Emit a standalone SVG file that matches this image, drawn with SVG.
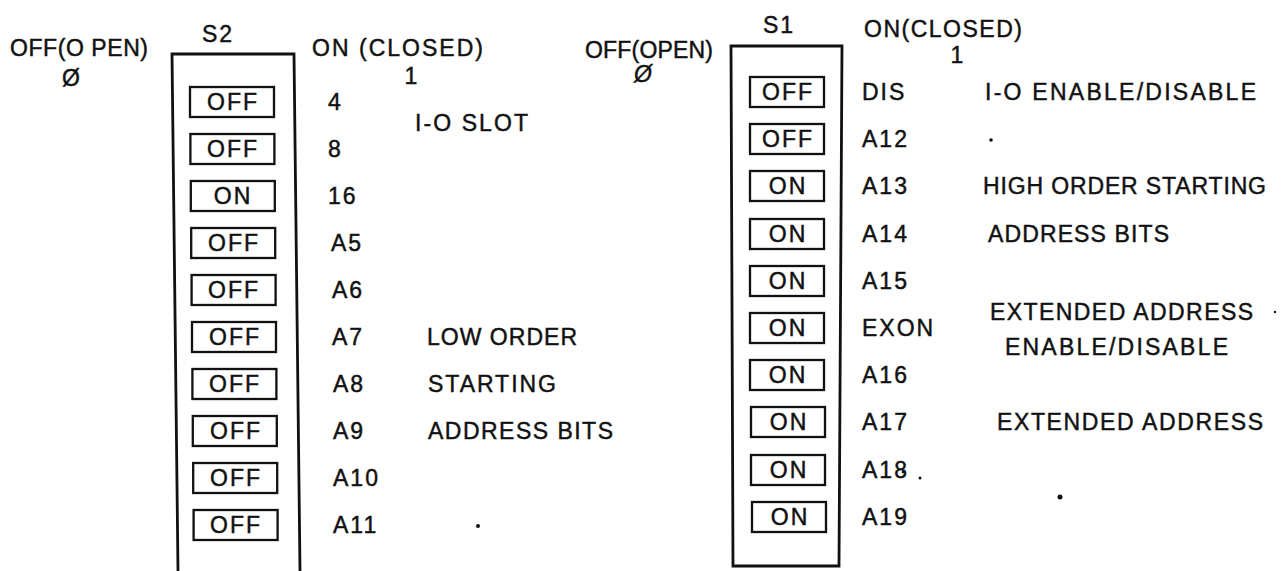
<svg xmlns="http://www.w3.org/2000/svg" width="1283" height="571" viewBox="0 0 1283 571">
<style>
text{font-family:"Liberation Sans",Arial,sans-serif;font-size:23px;fill:#111;stroke:#111;stroke-width:0.45;letter-spacing:2px}
.sw{fill:none;stroke:#111;stroke-width:2.3}
.box{fill:none;stroke:#111;stroke-width:2.8}
.st{font-size:23px;text-anchor:middle}
.dot{fill:#111}
</style>
<rect width="1283" height="571" fill="#fff"/>
<g id="S2">
<path class="box" d="M178,571 L172,54 L294,54 L300,571"/>
<text x="202" y="42">S2</text>
<text x="10" y="56" textLength="140" lengthAdjust="spacing">OFF(O PEN)</text>
<text x="72" y="86" style="text-anchor:middle">Ø</text>
<text x="312" y="56" textLength="173" lengthAdjust="spacing">ON (CLOSED)</text>
<text x="412" y="84" style="text-anchor:middle">1</text>
<rect class="sw" x="190" y="87" width="84" height="30"/><text class="st" x="233" y="110">OFF</text>
<rect class="sw" x="190.4" y="134" width="84" height="30"/><text class="st" x="233" y="157">OFF</text>
<rect class="sw" x="190.8" y="181" width="84" height="30"/><text class="st" x="233" y="204">ON</text>
<rect class="sw" x="191.2" y="228" width="84" height="30"/><text class="st" x="234" y="251">OFF</text>
<rect class="sw" x="191.6" y="275" width="84" height="30"/><text class="st" x="234" y="298">OFF</text>
<rect class="sw" x="192" y="322" width="84" height="30"/><text class="st" x="235" y="345">OFF</text>
<rect class="sw" x="192.4" y="369" width="84" height="30"/><text class="st" x="235" y="392">OFF</text>
<rect class="sw" x="192.8" y="416" width="84" height="30"/><text class="st" x="236" y="439">OFF</text>
<rect class="sw" x="193.2" y="463" width="84" height="30"/><text class="st" x="236" y="486">OFF</text>
<rect class="sw" x="193.6" y="510" width="84" height="30"/><text class="st" x="236" y="533">OFF</text>
<text x="328" y="110">4</text>
<text x="328" y="157">8</text>
<text x="328" y="204">16</text>
<text x="331" y="251">A5</text>
<text x="332" y="298">A6</text>
<text x="332" y="345">A7</text>
<text x="333" y="392">A8</text>
<text x="333" y="439">A9</text>
<text x="333" y="486">A10</text>
<text x="333" y="533">A11</text>
<text x="415" y="131" textLength="115" lengthAdjust="spacing">I-O SLOT</text>
<text x="427" y="345" textLength="152" lengthAdjust="spacing">LOW ORDER</text>
<text x="428" y="392" textLength="130" lengthAdjust="spacing">STARTING</text>
<text x="428" y="439" textLength="187" lengthAdjust="spacing">ADDRESS BITS</text>
<circle class="dot" cx="478" cy="526" r="2"/>
</g>
<g id="S1">
<path class="box" d="M731,46 L842,46 L839,566 L733,566 Z"/>
<text x="763" y="33">S1</text>
<text x="585" y="58" textLength="130" lengthAdjust="spacing">OFF(OPEN)</text>
<text x="644" y="82" style="text-anchor:middle;font-style:italic">Ø</text>
<text x="864" y="37" textLength="160" lengthAdjust="spacing">ON(CLOSED)</text>
<text x="958" y="63" style="text-anchor:middle">1</text>
<rect class="sw" x="750" y="77" width="74" height="30"/><text class="st" x="788" y="100">OFF</text>
<rect class="sw" x="750" y="124" width="74" height="30"/><text class="st" x="788" y="147">OFF</text>
<rect class="sw" x="750" y="171" width="74" height="30"/><text class="st" x="788" y="194">ON</text>
<rect class="sw" x="750" y="219" width="74" height="30"/><text class="st" x="788" y="242">ON</text>
<rect class="sw" x="750" y="266" width="74" height="30"/><text class="st" x="788" y="289">ON</text>
<rect class="sw" x="750" y="313" width="74" height="30"/><text class="st" x="788" y="336">ON</text>
<rect class="sw" x="750" y="360" width="74" height="30"/><text class="st" x="788" y="383">ON</text>
<rect class="sw" x="751" y="407" width="74" height="30"/><text class="st" x="789" y="430">ON</text>
<rect class="sw" x="751" y="455" width="74" height="30"/><text class="st" x="789" y="478">ON</text>
<rect class="sw" x="752" y="502" width="74" height="30"/><text class="st" x="790" y="525">ON</text>
<text x="862" y="100">DIS</text>
<text x="862" y="147">A12</text>
<text x="862" y="194">A13</text>
<text x="862" y="242">A14</text>
<text x="862" y="289">A15</text>
<text x="862" y="336">EXON</text>
<text x="862" y="383">A16</text>
<text x="862" y="430">A17</text>
<text x="862" y="478">A18</text>
<text x="862" y="525">A19</text>
<text x="985" y="100" textLength="273" lengthAdjust="spacing">I-O ENABLE/DISABLE</text>
<text x="983" y="194" textLength="285" lengthAdjust="spacing">HIGH ORDER STARTING</text>
<text x="988" y="242" textLength="183" lengthAdjust="spacing">ADDRESS BITS</text>
<text x="990" y="320" textLength="265" lengthAdjust="spacing">EXTENDED ADDRESS</text>
<text x="1005" y="355" textLength="225" lengthAdjust="spacing">ENABLE/DISABLE</text>
<text x="997" y="430" textLength="268" lengthAdjust="spacing">EXTENDED ADDRESS</text>
<circle class="dot" cx="991" cy="140" r="1.8"/>
<circle class="dot" cx="903" cy="472" r="1.3"/>
<circle class="dot" cx="920" cy="478" r="1.5"/>
<circle class="dot" cx="1060" cy="497" r="2.5"/>
<circle class="dot" cx="1275" cy="312" r="1.2"/>
</g>
</svg>
